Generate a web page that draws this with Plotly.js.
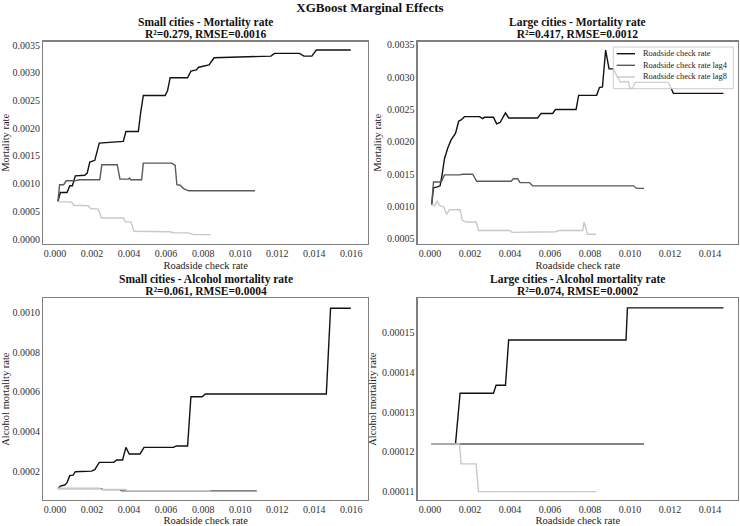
<!DOCTYPE html>
<html>
<head>
<meta charset="utf-8">
<script src="https://cdn.plot.ly/plotly-3.0.1.min.js"></script>
<style>html,body{margin:0;padding:0;background:#fff;}#chart{width:740px;height:526px;}</style>
</head>
<body>
<div id="chart"></div>
<script>
// ---- Data ----
const seriesNames = ["Roadside check rate", "Roadside check rate lag4", "Roadside check rate lag8"];

// Small cities - Mortality rate
const tlRateX = [0.00016, 0.00029, 0.00065, 0.00080, 0.00094, 0.00110, 0.00161, 0.00174, 0.00188, 0.00215, 0.00239, 0.00369, 0.00383, 0.00450, 0.00463, 0.00477, 0.00595, 0.00608, 0.00622, 0.00716, 0.00734, 0.00763, 0.00776, 0.00810, 0.00832, 0.00859, 0.01076, 0.01166, 0.01185, 0.01320, 0.01344, 0.01387, 0.01411, 0.01597];
const tlRateY = [0.00068, 0.00084, 0.00084, 0.00096, 0.00096, 0.00114, 0.00115, 0.00119, 0.00139, 0.00142, 0.00173, 0.00176, 0.00194, 0.00194, 0.00229, 0.00259, 0.00259, 0.00268, 0.00291, 0.00291, 0.00303, 0.00305, 0.00310, 0.00312, 0.00314, 0.00327, 0.00329, 0.00330, 0.00335, 0.00335, 0.00330, 0.00330, 0.00341, 0.00341];
const tlLag4X = [0.00016, 0.00025, 0.00047, 0.00061, 0.00107, 0.00134, 0.00242, 0.00253, 0.00336, 0.00351, 0.00396, 0.00402, 0.00410, 0.00468, 0.00477, 0.00631, 0.00649, 0.00658, 0.00676, 0.00694, 0.00722, 0.0108];
const tlLag4Y = [0.00068, 0.00098, 0.00098, 0.00105, 0.00105, 0.00107, 0.00107, 0.00134, 0.00134, 0.00108, 0.00108, 0.00110, 0.00107, 0.00107, 0.00137, 0.00137, 0.00133, 0.00098, 0.00097, 0.00091, 0.00087, 0.00087];
const tlLag8X = [0.00016, 0.00089, 0.00102, 0.00179, 0.00192, 0.00233, 0.00251, 0.0037, 0.0038, 0.0041, 0.00427, 0.00622, 0.0064, 0.0072, 0.00749, 0.00841];
const tlLag8Y = [0.00067, 0.00067, 0.00061, 0.00060, 0.00055, 0.00054, 0.00038, 0.00038, 0.00031, 0.00031, 0.00014, 0.00013, 0.00011, 0.00011, 0.00008, 0.00008];

// Large cities - Mortality rate
const trRateX = [0.00008, 0.00017, 0.00033, 0.0005, 0.0006, 0.00072, 0.00088, 0.00105, 0.00127, 0.00143, 0.00155, 0.00172, 0.00247, 0.00263, 0.00272, 0.00317, 0.00333, 0.0035, 0.00377, 0.00393, 0.00538, 0.00555, 0.00613, 0.00627, 0.0073, 0.00743, 0.00833, 0.00847, 0.00862, 0.00878, 0.00895, 0.00917, 0.00933, 0.0095, 0.00992, 0.0100, 0.01013, 0.01025, 0.01192, 0.01217, 0.01467];
const trRateY = [0.00103, 0.00129, 0.0013, 0.00132, 0.00149, 0.00174, 0.0019, 0.00203, 0.00213, 0.00232, 0.00234, 0.00239, 0.00239, 0.00236, 0.00238, 0.00238, 0.00228, 0.0023, 0.00245, 0.00237, 0.00237, 0.00244, 0.00244, 0.0025, 0.0025, 0.00272, 0.00272, 0.00284, 0.00285, 0.00342, 0.00313, 0.00313, 0.00303, 0.00293, 0.00293, 0.00283, 0.00283, 0.00292, 0.00292, 0.00275, 0.00275];
const trLag4X = [0.00008, 0.00017, 0.00055, 0.00072, 0.00147, 0.00163, 0.00213, 0.00233, 0.00405, 0.00417, 0.00438, 0.0045, 0.00497, 0.00513, 0.01017, 0.01033, 0.0107];
const trLag4Y = [0.00103, 0.00138, 0.00138, 0.00149, 0.00149, 0.0015, 0.0015, 0.00139, 0.00139, 0.00143, 0.00143, 0.00137, 0.00137, 0.00132, 0.00132, 0.00128, 0.00128];
const trLag8X = [0.00008, 0.00022, 0.00035, 0.0005, 0.00067, 0.00083, 0.00097, 0.0015, 0.0016, 0.0018, 0.0023, 0.00243, 0.00397, 0.0041, 0.0063, 0.00647, 0.00763, 0.0077, 0.0078, 0.00787, 0.0083];
const trLag8Y = [0.00103, 0.00101, 0.00108, 0.00101, 0.001, 0.00088, 0.00095, 0.00095, 0.00079, 0.00076, 0.00076, 0.00063, 0.00063, 0.0006, 0.00061, 0.00063, 0.00063, 0.00076, 0.00066, 0.00057, 0.00057];

// Small cities - Alcohol mortality rate
const blRateX = [0.00016, 0.00029, 0.00053, 0.00065, 0.0008, 0.00098, 0.0011, 0.00197, 0.00215, 0.00239, 0.00318, 0.00333, 0.00365, 0.00383, 0.00401, 0.00459, 0.00481, 0.0064, 0.00655, 0.00716, 0.00734, 0.00794, 0.00812, 0.01465, 0.01488, 0.01597];
const blRateY = [0.000115, 0.000128, 0.000133, 0.000145, 0.00018, 0.000183, 0.0002, 0.000203, 0.00021, 0.000247, 0.000247, 0.000259, 0.000259, 0.000322, 0.000289, 0.000289, 0.000322, 0.000322, 0.000329, 0.000329, 0.000576, 0.000576, 0.00059, 0.00059, 0.00102, 0.00102];
const blLag4X = [0.00016, 0.0025, 0.0026, 0.0035, 0.0036, 0.0109];
const blLag4Y = [0.000115, 0.000115, 0.00011, 0.00011, 0.000104, 0.000104];
const blLag8X = [0.00016, 0.0024, 0.0025, 0.0038, 0.0039, 0.0084];
const blLag8Y = [0.000117, 0.000117, 0.000111, 0.000111, 0.000105, 0.000105];

// Large cities - Alcohol mortality rate
const brRateX = [0.00008, 0.00127, 0.0015, 0.00317, 0.0033, 0.00377, 0.00393, 0.0098, 0.00987, 0.01467];
const brRateY = [0.000122, 0.000122, 0.0001348, 0.0001348, 0.0001368, 0.0001368, 0.0001482, 0.0001482, 0.0001563, 0.0001563];
const brLag4X = [0.00008, 0.0107];
const brLag4Y = [0.000122, 0.000122];
const brLag8X = [0.00008, 0.00147, 0.00155, 0.0023, 0.00242, 0.0083];
const brLag8Y = [0.000122, 0.000122, 0.000117, 0.000117, 0.00011, 0.00011];

const panelTitles = [
  ["Small cities - Mortality rate", "R²=0.279, RMSE=0.0016"],
  ["Large cities - Mortality rate", "R²=0.417, RMSE=0.0012"],
  ["Small cities - Alcohol mortality rate", "R²=0.061, RMSE=0.0004"],
  ["Large cities - Alcohol mortality rate", "R²=0.074, RMSE=0.0002"]
];
const yTitles = ["Mortality rate", "Mortality rate", "Alcohol mortality rate", "Alcohol mortality rate"];
const xTitle = "Roadside check rate";
const mainTitle = "XGBoost Marginal Effects";

// ---- Styling ----
const W = 740, H = 526;
const FONT = "Liberation Serif, Times New Roman, serif";
const colors = ["#111111", "#5a5a5a", "#c8c8c8"];
const LW = 1.4;

const panels = [
  {xs: [tlRateX, tlLag4X, tlLag8X], ys: [tlRateY, tlLag4Y, tlLag8Y]},
  {xs: [trRateX, trLag4X, trLag8X], ys: [trRateY, trLag4Y, trLag8Y]},
  {xs: [blRateX, blLag4X, blLag8X], ys: [blRateY, blLag4Y, blLag8Y]},
  {xs: [brRateX, brLag4X, brLag8X], ys: [brRateY, brLag4Y, brLag8Y]}
];

const traces = [];
panels.forEach((p, i) => {
  const ax = i === 0 ? "" : String(i + 1);
  for (let s = 0; s < 3; s++) {
    traces.push({
      x: p.xs[s], y: p.ys[s], type: "scatter", mode: "lines",
      name: seriesNames[s], showlegend: false,
      line: {color: colors[s], width: LW},
      xaxis: "x" + ax, yaxis: "y" + ax, hoverinfo: "skip"
    });
  }
});

// pixel boxes of each panel: [left, right, top, bottom]
const boxes = [
  [43.3, 368, 41.7, 244],
  [417.7, 738, 41.7, 244],
  [43.3, 368, 298.3, 500],
  [417.7, 738, 298.3, 500]
];
const xRanges = [[-0.00063, 0.0169], [-0.00062, 0.0154], [-0.00063, 0.0169], [-0.00062, 0.0154]];
const yRanges = [[-0.00009, 0.00356], [0.00042, 0.00355], [0.000058, 0.00107], [0.0001079, 0.0001587]];
const yDticks = [0.0005, 0.0005, 0.0002, 0.00001];
const yFormats = [".4f", ".4f", ".4f", ".5f"];

const layout = {
  width: W, height: H,
  margin: {l: 0, r: 0, t: 0, b: 0},
  paper_bgcolor: "#fff", plot_bgcolor: "#fff",
  font: {family: FONT, color: "#222"},
  title: {text: "<b>" + mainTitle + "</b>", font: {family: FONT, size: 13, color: "#111"},
          x: 0.5, xanchor: "center", y: 1 - 7.5 / H, yanchor: "middle", yref: "container"},
  showlegend: false,
  annotations: [],
  shapes: []
};

boxes.forEach((b, i) => {
  const ax = i === 0 ? "" : String(i + 1);
  const common = {
    showline: true, mirror: true, linecolor: "#808080", linewidth: 1.3,
    showgrid: false, zeroline: false, ticks: "",
    tickfont: {family: FONT, size: 10, color: "#333"}
  };
  layout["xaxis" + ax] = Object.assign({}, common, {
    domain: [b[0] / W, b[1] / W], anchor: "y" + ax,
    range: xRanges[i], dtick: 0.002, tick0: 0, tickformat: ".3f",
    title: {text: xTitle, font: {family: FONT, size: 10.5, color: "#222"}, standoff: 3}
  });
  layout["yaxis" + ax] = Object.assign({}, common, {
    domain: [1 - b[3] / H, 1 - b[2] / H], anchor: "x" + ax,
    range: yRanges[i], dtick: yDticks[i], tick0: 0, tickformat: yFormats[i],
    title: {text: yTitles[i], font: {family: FONT, size: 10.5, color: "#222"}, standoff: 3}
  });
  // Two-line panel title: a small base font gives tight (matplotlib-like) line spacing,
  // while the visible text is drawn at 11.5px.
  const cx = (b[0] + b[1]) / 2 / W;
  const big = '<span style="font-size:11.5px"><b>';
  layout.annotations.push({
    text: big + panelTitles[i][0] + "</b></span><br>" + big + panelTitles[i][1] + "</b></span>",
    xref: "paper", yref: "paper", x: cx, y: 1 - (b[2] - 13.4) / H,
    xanchor: "center", yanchor: "middle", valign: "middle", showarrow: false, borderpad: 0,
    font: {family: FONT, size: 9.2, color: "#111"}
  });
});

// ---- Legend drawn inside the "Large cities - Mortality rate" panel ----
const leg = {left: 613.3, right: 733.3, top: 47, bottom: 88.7, lineX0: 616.7, lineX1: 635, textX: 641.7, rows: [53.7, 65.3, 77]};
layout.shapes.push({type: "rect", xref: "paper", yref: "paper", layer: "above",
  x0: leg.left / W, x1: leg.right / W, y0: 1 - leg.bottom / H, y1: 1 - leg.top / H,
  fillcolor: "rgba(255,255,255,0.8)", line: {color: "#cccccc", width: 1}});
seriesNames.forEach((nm, s) => {
  const yy = 1 - leg.rows[s] / H;
  layout.shapes.push({type: "line", xref: "paper", yref: "paper", layer: "above",
    x0: leg.lineX0 / W, x1: leg.lineX1 / W, y0: yy, y1: yy,
    line: {color: colors[s], width: LW}});
  layout.annotations.push({text: nm, xref: "paper", yref: "paper", x: leg.textX / W, y: yy,
    xanchor: "left", yanchor: "middle", showarrow: false, borderpad: 0,
    font: {family: FONT, size: 8.4, color: "#222"}});
});

Plotly.newPlot("chart", traces, layout, {displayModeBar: false, staticPlot: true});
</script>
</body>
</html>
